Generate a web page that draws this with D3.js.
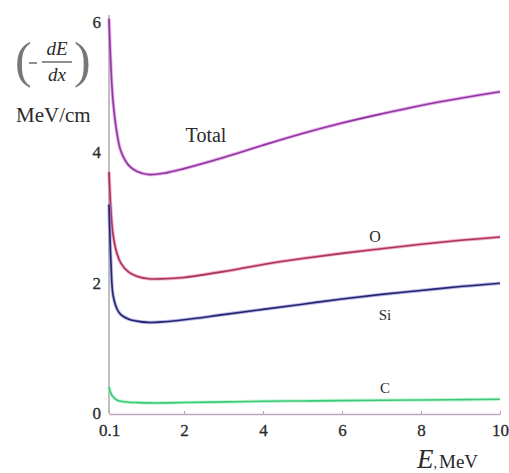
<!DOCTYPE html>
<html>
<head>
<meta charset="utf-8">
<script src="https://cdn.jsdelivr.net/npm/d3@7"></script>
<style>
  body { margin: 0; background: #fff; }
</style>
</head>
<body>
<svg width="509" height="473"></svg>
<script>
// energy, MeV
var energy = [0.1, 0.15, 0.2, 0.3, 0.4, 0.6, 0.8, 1.1, 1.5, 2, 3, 4, 5, 6, 7, 8, 9, 10];
// stopping power, MeV/cm
var totalLoss  = [6.05, 5.3, 4.8, 4.3, 4.02, 3.80, 3.71, 3.66, 3.68, 3.75, 3.92, 4.11, 4.29, 4.45, 4.59, 4.72, 4.83, 4.93];
var oxygenLoss = [3.7, 3.1, 2.75, 2.45, 2.3, 2.16, 2.10, 2.06, 2.06, 2.08, 2.17, 2.28, 2.37, 2.45, 2.52, 2.59, 2.65, 2.70];
var siliconLoss = [3.2, 2.3, 1.82, 1.6, 1.51, 1.44, 1.41, 1.39, 1.40, 1.43, 1.51, 1.59, 1.67, 1.75, 1.82, 1.88, 1.94, 1.99];
var carbonLoss = [0.40, 0.30, 0.25, 0.20, 0.18, 0.165, 0.16, 0.155, 0.155, 0.16, 0.17, 0.18, 0.185, 0.19, 0.195, 0.20, 0.205, 0.21];

var xTicks = [0.1, 2, 4, 6, 8, 10];
var yTicks = [0, 2, 4, 6];

var serif = "'Liberation Serif', 'Times New Roman', 'DejaVu Serif', serif";
var svg = d3.select("svg").attr("font-family", serif);

var xScale = d3.scaleLinear().domain([0.1, 10]).range([109, 500]);
var yScale = d3.scaleLinear().domain([0, 6]).range([413, 22]);

// curves: halo + dark core, to look like the scanned lines
var series = [
    { name: "Total", values: totalLoss, halo: "#e27ae6", core: "#8a3a9c", lx: 206, ly: 142, size: 20 },
    { name: "O", values: oxygenLoss, halo: "#ec7fa6", core: "#a8345e", lx: 375, ly: 242, size: 16 },
    { name: "Si", values: siliconLoss, halo: "#8a8ad8", core: "#25246e", lx: 385, ly: 320, size: 15 },
    { name: "C", values: carbonLoss, halo: "#9af0b8", core: "#3cc878", lx: 385, ly: 393, size: 15 }
];

var line = d3.line()
    .x(function(d, i) { return xScale(energy[i]); })
    .y(function(d) { return yScale(d); })
    .curve(d3.curveCatmullRom.alpha(0.5));

// axes
var xAxis = svg.append("g")
    .attr("transform", "translate(0," + 414 + ")")
    .call(d3.axisBottom(xScale).tickValues(xTicks).tickSize(-3).tickSizeOuter(0).tickPadding(10)
        .tickFormat(function(d) { return d; }));
xAxis.attr("font-family", serif);
xAxis.select(".domain").attr("stroke", "#c4a6bc").attr("stroke-width", 1.5);
xAxis.selectAll(".tick line").attr("stroke", "#b9a0b4");
xAxis.selectAll("text").attr("font-size", "17px").attr("fill", "#2a2a2a")
    .attr("stroke", "#2a2a2a").attr("stroke-width", 0.3);

var yAxis = svg.append("g")
    .attr("transform", "translate(" + 109 + ",0)")
    .call(d3.axisLeft(yScale).tickValues(yTicks).tickSize(0).tickPadding(8)
        .tickFormat(function(d) { return d; }));
yAxis.attr("font-family", serif);
yAxis.select(".domain").attr("stroke", "#aaa").attr("stroke-width", 1.5)
    .attr("d", "M0," + yScale(0) + "V" + (yScale(6) - 7));
yAxis.selectAll("text").attr("font-size", "17px").attr("fill", "#2a2a2a")
    .attr("stroke", "#2a2a2a").attr("stroke-width", 0.3);

series.forEach(function(s) {
    svg.append("path").datum(s.values)
        .attr("d", line).attr("fill", "none")
        .attr("stroke", s.halo).attr("stroke-width", 3.5).attr("opacity", 0.6);
    svg.append("path").datum(s.values)
        .attr("d", line).attr("fill", "none")
        .attr("stroke", s.core).attr("stroke-width", 1.6);
    svg.append("text")
        .attr("x", s.lx).attr("y", s.ly)
        .attr("text-anchor", "middle")
        .attr("font-size", s.size + "px")
        .attr("fill", "#2a2a2a")
        .text(s.name);
});

// y label: (-dE/dx) MeV/cm
var yl = svg.append("g").attr("fill", "#2a2a2a");
yl.append("text").attr("x", 15).attr("y", 77).attr("font-size", "50px")
    .attr("fill", "#777").text("(");
yl.append("text").attr("x", 74).attr("y", 77).attr("font-size", "50px")
    .attr("fill", "#777").text(")");
yl.append("line").attr("x1", 29).attr("x2", 37).attr("y1", 63).attr("y2", 63)
    .attr("stroke", "#444").attr("stroke-width", 1.2);
yl.append("line").attr("x1", 42).attr("x2", 72).attr("y1", 62).attr("y2", 62)
    .attr("stroke", "#444").attr("stroke-width", 1.2);
yl.append("text").attr("x", 57).attr("y", 55).attr("text-anchor", "middle")
    .attr("font-size", "19px").attr("font-style", "italic").text("dE");
yl.append("text").attr("x", 57).attr("y", 81).attr("text-anchor", "middle")
    .attr("font-size", "19px").attr("font-style", "italic").text("dx");
yl.append("text").attr("x", 16).attr("y", 122).attr("font-size", "21px").text("MeV/cm");

// x label: E, MeV
var xl = svg.append("text").attr("x", 417).attr("y", 468).attr("fill", "#2a2a2a");
xl.append("tspan").attr("font-size", "27px").attr("font-style", "italic").text("E");
xl.append("tspan").attr("font-size", "14px").text(",");
xl.append("tspan").attr("font-size", "19px").attr("dx", 2).text("MeV");
</script>
</body>
</html>
